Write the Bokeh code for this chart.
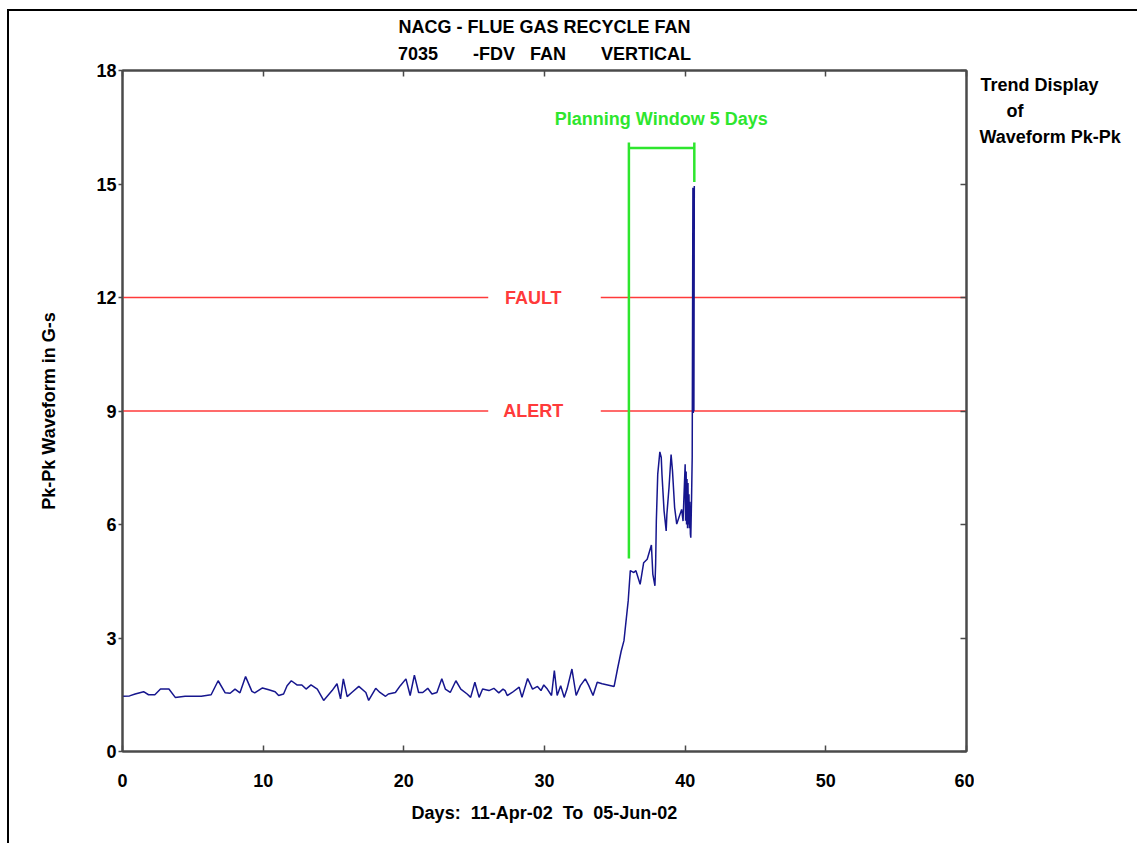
from bokeh.plotting import figure
from bokeh.layouts import row
from bokeh.models import LinearAxis, FixedTicker, Range1d, Label
from bokeh.embed import file_html
from bokeh.resources import INLINE

# ---------------- data ----------------
days = [0.0, 0.5, 0.9, 1.5, 1.85, 2.3, 2.7, 3.3, 3.75, 4.45,
        5.6, 6.3, 6.8, 7.3, 7.65, 8.0, 8.35, 8.75, 9.2, 9.4,
        9.95, 10.4, 10.85, 11.1, 11.45, 11.7, 12.0, 12.4, 12.75, 13.05,
        13.4, 13.85, 14.3, 14.9, 15.25, 15.5, 15.7, 15.97, 16.3, 16.8,
        17.3, 17.5, 18.0, 18.3, 18.7, 18.9, 19.4, 19.75, 20.15, 20.45,
        20.75, 21.05, 21.35, 21.7, 22.0, 22.35, 22.7, 22.95, 23.3, 23.7,
        24.05, 24.5, 24.75, 25.05, 25.35, 25.6, 26.05, 26.4, 26.75, 27.05,
        27.2, 27.35, 27.7, 28.2, 28.4, 28.8, 29.15, 29.5, 29.75, 29.95,
        30.2, 30.5, 30.7, 30.9, 31.15, 31.4, 31.6, 31.95, 32.25, 32.55,
        32.9, 33.15, 33.45, 33.75, 34.1, 34.95, 35.2, 35.45, 35.65, 35.8,
        35.95, 36.1, 36.35, 36.5, 36.8, 37.05, 37.3, 37.6, 37.7, 37.85,
        37.9, 37.95, 38.05, 38.2, 38.3, 38.35, 38.5, 38.65, 38.7, 38.85,
        39.0, 39.1, 39.25, 39.4, 39.55, 39.75, 39.85, 40.0, 40.03, 40.07,
        40.1, 40.13, 40.17, 40.2, 40.23, 40.27, 40.3, 40.33, 40.37, 40.4,
        40.45, 40.5, 40.55, 40.58, 40.6, 40.62, 40.65]
pkpk = [1.46, 1.47, 1.52, 1.58, 1.50, 1.50, 1.65, 1.65, 1.43, 1.46,
        1.46, 1.50, 1.87, 1.55, 1.54, 1.65, 1.55, 1.98, 1.59, 1.55,
        1.68, 1.63, 1.58, 1.48, 1.52, 1.74, 1.87, 1.76, 1.76, 1.65,
        1.76, 1.65, 1.35, 1.61, 1.79, 1.39, 1.92, 1.45, 1.56, 1.72,
        1.56, 1.35, 1.67, 1.56, 1.46, 1.52, 1.56, 1.74, 1.92, 1.48,
        2.02, 1.56, 1.56, 1.67, 1.52, 1.56, 1.92, 1.65, 1.56, 1.87,
        1.65, 1.52, 1.43, 1.83, 1.43, 1.65, 1.61, 1.67, 1.55, 1.65,
        1.61, 1.48, 1.56, 1.70, 1.43, 1.93, 1.65, 1.72, 1.61, 1.76,
        1.65, 1.48, 2.14, 1.48, 1.74, 1.43, 1.65, 2.18, 1.48, 1.74,
        1.92, 1.74, 1.48, 1.83, 1.79, 1.72, 2.20, 2.65, 2.93, 3.46,
        3.98, 4.78, 4.73, 4.78, 4.42, 4.99, 5.08, 5.46, 4.69, 4.38,
        4.95, 6.09, 7.33, 7.92, 7.77, 7.33, 6.36, 5.83, 6.27, 6.97,
        7.85, 7.41, 6.45, 6.01, 6.18, 6.40, 6.09, 7.59, 6.10, 7.40,
        6.00, 7.20, 5.90, 7.10, 6.00, 6.80, 5.90, 6.60, 5.75, 5.65,
        6.60, 7.77, 14.90, 8.95, 14.80, 9.00, 14.95]

x_ticks = [0, 10, 20, 30, 40, 50, 60]
y_ticks = [0, 3, 6, 9, 12, 15, 18]
fault_level = 12
alert_level = 9
window_start = 36.0
window_end = 40.65
window_days = 5

title_line1 = "NACG - FLUE GAS RECYCLE FAN"
title_line2 = ("7035" + "\u00a0" * 6 + " -FDV" + "\u00a0" * 2 + " FAN"
               + "\u00a0" * 6 + " VERTICAL")
side_lines = ["Trend Display", "of", "Waveform Pk-Pk"]

FONT = "Liberation Sans"
AX = "#4a4a4a"
RED = "#ff3a3a"
GREEN = "#2ee62e"
BLUE = "#16168e"

MAIN_W, SIDE_W, H = 965, 163, 832
p = figure(width=MAIN_W, height=H, x_range=Range1d(0, 60), y_range=Range1d(0, 18),
           output_backend="svg", toolbar_location=None,
           min_border_left=113, min_border_right=8,
           min_border_top=58, min_border_bottom=92)
p.background_fill_color = "white"
p.border_fill_color = "white"
p.outline_line_color = AX
p.outline_line_width = 2
p.xgrid.visible = False
p.ygrid.visible = False

p.title.text = title_line1
p.title.align = "center"
p.title.text_font = FONT
p.title.text_font_style = "bold"
p.title.text_font_size = "18px"
p.title.text_color = "black"
p.title.standoff = 7


def style_axis(ax, ticks, tin, tout, labels=True):
    ax.ticker = FixedTicker(ticks=ticks)
    ax.axis_line_color = AX
    ax.axis_line_width = 2
    ax.major_tick_line_color = AX
    ax.major_tick_line_width = 1.5
    ax.major_tick_in = tin
    ax.major_tick_out = tout
    ax.minor_tick_line_color = None
    ax.major_label_text_font = FONT
    ax.major_label_text_font_style = "bold"
    if labels:
        ax.major_label_text_font_size = "18px"
        ax.major_label_text_color = "black"
    else:
        ax.major_label_text_font_size = "2px"
        ax.major_label_text_color = None
        ax.major_label_standoff = 0
    ax.axis_label_text_font = FONT
    ax.axis_label_text_font_style = "bold"
    ax.axis_label_text_font_size = "18px"
    ax.axis_label_text_color = "black"


style_axis(p.xaxis[0], x_ticks, 6, 0)
p.xaxis[0].major_label_standoff = 22
p.xaxis[0].axis_label = "Days:\u00a0 11-Apr-02\u00a0 To\u00a0 05-Jun-02"
p.xaxis[0].axis_label_standoff = 13

style_axis(p.yaxis[0], y_ticks, 0, 4)
p.yaxis[0].major_label_standoff = 2
p.yaxis[0].axis_label = "Pk-Pk Waveform in G-s"
p.yaxis[0].axis_label_standoff = 34

top_ax = LinearAxis()
style_axis(top_ax, x_ticks, 6, 0, labels=False)
top_ax.axis_label = title_line2
top_ax.axis_label_standoff = 7
p.add_layout(top_ax, "above")

right_ax = LinearAxis()
style_axis(right_ax, y_ticks, 6, 0, labels=False)
p.add_layout(right_ax, "right")

# threshold lines with a gap for their labels
for lvl, name in [(fault_level, "FAULT"), (alert_level, "ALERT")]:
    p.multi_line(xs=[[0, 26.0], [34.0, 60]], ys=[[lvl, lvl], [lvl, lvl]],
                 line_color=RED, line_width=1.6)
    p.add_layout(Label(x=29.2, y=lvl, text=name, text_align="center",
                       text_baseline="middle", text_font=FONT,
                       text_font_style="bold", text_font_size="18px",
                       text_color=RED))

# planning window bracket
p.line([window_start, window_start], [5.1, 16.1], line_color=GREEN, line_width=2.5)
p.line([window_start, window_end], [15.95, 15.95], line_color=GREEN, line_width=2.5)
p.line([window_end, window_end], [15.05, 16.1], line_color=GREEN, line_width=2.5)
p.add_layout(Label(x=38.3, y=16.72, text=f"Planning Window {window_days} Days",
                   text_align="center", text_baseline="middle", text_font=FONT,
                   text_font_style="bold", text_font_size="18px", text_color=GREEN))

# trend line
p.line(days, pkpk, line_color=BLUE, line_width=1.5)

# side text panel; its frame is aligned with the main frame (page px 69..751),
# so ranges are expressed in page pixels (y downwards)
side = figure(width=SIDE_W, height=H, x_range=Range1d(974, 974 + SIDE_W),
              y_range=Range1d(751, 69),
              output_backend="svg", toolbar_location=None,
              x_axis_location=None, y_axis_location=None,
              min_border_left=0, min_border_right=0,
              min_border_top=0, min_border_bottom=0)
side.xgrid.visible = False
side.ygrid.visible = False
side.outline_line_color = None
side.background_fill_color = "white"
side.border_fill_color = "white"
for (sx, sy), s in zip([(980, 84), (1006, 110), (979, 136)], side_lines):
    side.add_layout(Label(x=sx, y=sy, text=s, text_align="left", text_baseline="middle",
                          text_font=FONT, text_font_style="bold",
                          text_font_size="18px", text_color="black"))

layout = row(p, side, spacing=0)
layout.margin = (9, 0, 0, 7)
layout.styles = {"border-left": "2px solid #000", "border-top": "2px solid #000"}

open("out.html", "w").write(file_html(layout, INLINE))
